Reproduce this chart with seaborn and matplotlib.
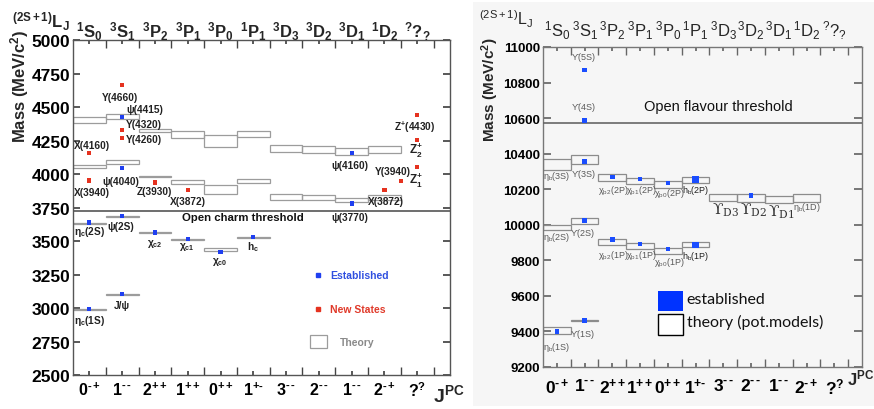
import numpy as np
import pandas as pd
import matplotlib
matplotlib.use("Agg")
import matplotlib.pyplot as plt
from matplotlib.patches import Rectangle
import seaborn as sns

# ---------------- categories ----------------
jpc_labels = ["0^{‐+}", "1^{‐\\,‐}", "2^{++}", "1^{++}", "0^{++}", "1^{+‐}",
              "3^{‐\\,‐}", "2^{‐\\,‐}", "1^{‐\\,‐}", "2^{‐+}", "?^{?}"]
term_labels = ["{}^{1}S_{0}", "{}^{3}S_{1}", "{}^{3}P_{2}", "{}^{3}P_{1}", "{}^{3}P_{0}",
               "{}^{1}P_{1}", "{}^{3}D_{3}", "{}^{3}D_{2}", "{}^{3}D_{1}", "{}^{1}D_{2}",
               "{}^{?}?_{?}"]

# ---------------- charmonium (left) ----------------
cc_th_col = [0, 0, 0, 0, 1, 1, 1, 1, 2, 2, 2, 3, 3, 3, 4, 4, 4, 5, 5, 5, 6, 6, 7, 7, 8, 8, 9, 9]
cc_th_lo = [4385, 4047, 3629, 2988, 4409, 4074, 3679, 3099, 4315, 3982, 3560, 4271, 3930, 3510,
            4204, 3856, 3426, 4280, 3935, 3523, 4166, 3811, 4161, 3804, 4146, 3794, 4159, 3806]
cc_th_hi = [4429, 4067, 3635, 2994, 4452, 4104, 3685, 3105, 4340, 3988, 3566, 4320, 3960, 3516,
            4295, 3923, 3451, 4320, 3962, 3529, 4221, 3856, 4211, 3843, 4198, 3826, 4211, 3843]

cc_est_name = ["eta_c(1S)", "J/psi", "eta_c(2S)", "psi(2S)", "chi_c2", "chi_c1", "chi_c0", "h_c",
               "psi(3770)", "psi(4040)", "psi(4160)", "psi(4415)"]
cc_est_col = [0, 1, 0, 1, 2, 3, 4, 5, 8, 1, 8, 1]
cc_est_mass = [2991, 3105, 3640, 3690, 3565, 3518, 3421, 3530, 3781, 4047, 4159, 4427]

cc_new_name = ["X(4160)", "X(3940)", "Y(4660)", "Y(4320)", "Y(4260)", "Z(3930)", "X(3872)",
               "X(3872)b", "Y(3940)", "Z1+", "Z2+", "Z+(4430)"]
cc_new_col = [0, 0, 1, 1, 1, 2, 3, 9, 9.5, 10, 10, 10]
cc_new_mass = [4161, 3953, 4668, 4332, 4271, 3938, 3880, 3880, 3950, 4055, 4253, 4444]

cc_threshold = 3729

# ---------------- bottomonium (right) ----------------
bb_th_col = [0, 0, 0, 1, 1, 1, 2, 2, 3, 3, 4, 4, 5, 5, 6, 7, 8, 9]
bb_th_lo = [10307, 9968, 9384, 10340, 10004, 9457, 10245, 9888, 10229, 9866, 10205, 9838,
            10233, 9873, 10134, 10130, 10124, 10130]
bb_th_hi = [10372, 10000, 9423, 10394, 10037, 9463, 10284, 9920, 10264, 9898, 10245, 9870,
            10269, 9903, 10171, 10171, 10162, 10171]

bb_est_name = ["eta_b(1S)", "Y(1S)", "Y(2S)", "Y(3S)", "Y(4S)", "Y(5S)", "chi_b2(2P)", "chi_b2(1P)",
               "chi_b1(2P)", "chi_b1(1P)", "chi_b0(2P)", "chi_b0(1P)", "h_b(2P)", "h_b(1P)", "Y_D2"]
bb_est_col = [0, 1, 1, 1, 1, 1, 2, 2, 3, 3, 4, 4, 5, 5, 7]
bb_est_mass = [9400, 9460, 10024, 10357, 10585, 10870, 10269, 9916, 10257, 9892, 10236, 9864,
               10255, 9887, 10163]

bb_threshold = 10570

# ---------------- layout (annotation positions) ----------------
cc_labels = [
    ("Y(4660)", 1.43, 4578, "center"), ("ψ(4415)", 1.62, 4489, "left"),
    ("Y(4320)", 1.62, 4377, "left"), ("Y(4260)", 1.62, 4265, "left"),
    ("X(4160)", 0.03, 4221, "left"), ("ψ(4040)", 0.91, 3953, "left"),
    ("X(3940)", 0.03, 3871, "left"), ("Z(3930)", 1.95, 3878, "left"),
    ("X(3872)", 2.96, 3798, "left"), ("ψ(4160)", 8.45, 4072, "center"),
    ("ψ(3770)", 8.45, 3684, "center"), ("X(3872)", 8.99, 3798, "left"),
    ("Y(3940)", 10.3, 4022, "right"), ("Z$^{+}$(4430)", 10.43, 4355, "center"),
    ("η$_{c}$(2S)", 0.03, 3573, "left"), ("ψ(2S)", 1.04, 3610, "left"),
    ("χ$_{c2}$", 2.5, 3483, "center"), ("χ$_{c1}$", 3.48, 3461, "center"),
    ("χ$_{c0}$", 4.48, 3349, "center"), ("h$_{c}$", 5.49, 3461, "center"),
    ("η$_{c}$(1S)", 0.03, 2910, "left"), ("J/ψ", 1.49, 3021, "center"),
]
cc_big_labels = [("Z$^{+}_{1}$", 10.25, 3967), ("Z$^{+}_{2}$", 10.25, 4191)]

bb_labels = [
    ("ϒ(5S)", 1.48, 10949, "center"), ("ϒ(4S)", 1.48, 10668, "center"),
    ("η$_{b}$(3S)", 0.0, 10276, "left"), ("ϒ(3S)", 1.05, 10286, "left"),
    ("χ$_{b2}$(2P)", 1.98, 10197, "left"), ("χ$_{b1}$(2P)", 2.99, 10197, "left"),
    ("χ$_{b0}$(2P)", 4.0, 10179, "left"), ("h$_{b}$(2P)", 5.01, 10201, "left"),
    ("η$_{b}$(1D)", 9.01, 10100, "left"),
    ("η$_{b}$(2S)", 0.0, 9935, "left"), ("ϒ(2S)", 1.01, 9954, "left"),
    ("χ$_{b2}$(1P)", 1.98, 9830, "left"), ("χ$_{b1}$(1P)", 2.99, 9830, "left"),
    ("χ$_{b0}$(1P)", 4.0, 9792, "left"), ("h$_{b}$(1P)", 5.01, 9826, "left"),
    ("ϒ(1S)", 1.01, 9386, "left"), ("η$_{b}$(1S)", 0.0, 9318, "left"),
]
bb_big_labels = [("ϒ$_{D3}$", 6.09, 10085), ("ϒ$_{D2}$", 7.1, 10085), ("ϒ$_{D1}$", 8.11, 10078)]

# ---------------- style ----------------
sns.set_theme(style="ticks")
plt.rcParams["font.family"] = ["Liberation Sans", "DejaVu Sans"]
plt.rcParams["mathtext.fontset"] = "custom"
plt.rcParams["mathtext.rm"] = "Liberation Sans"
plt.rcParams["mathtext.it"] = "Liberation Sans:italic"
plt.rcParams["mathtext.bf"] = "Liberation Sans:bold"
plt.rcParams["mathtext.default"] = "regular"

BLUE_L = "#1f3ff0"
RED_L = "#e5321f"
BLUE_R = "#1a4dff"
BG_R = "#f6f6f6"

W, H = 874, 410
fig = plt.figure(figsize=(W / 100, H / 100), dpi=100)
fig.patch.set_facecolor("white")
fig.add_artist(Rectangle((473 / W, 3 / H), 401 / W, 404 / H, transform=fig.transFigure,
                         facecolor=BG_R, edgecolor="none", zorder=-10))

axL = fig.add_axes([73 / W, 34 / H, 377 / W, 334.6 / H])
axR = fig.add_axes([543 / W, 42 / H, 319 / W, 320 / H])
axR.set_facecolor(BG_R)

ncol = len(jpc_labels)

# ---------- left panel ----------
lo = np.array(cc_th_lo); hi = np.array(cc_th_hi)
axL.bar(np.array(cc_th_col) + 0.5, hi - lo, bottom=lo, width=1.0, fill=False,
        edgecolor="#9c9c9c", linewidth=0.9, zorder=2)
cc_pts = pd.DataFrame({
    "x": np.r_[np.array(cc_est_col, float), np.array(cc_new_col, float)] + 0.5,
    "mass": np.r_[cc_est_mass, cc_new_mass],
    "kind": ["Established"] * len(cc_est_mass) + ["New States"] * len(cc_new_mass),
})
sns.scatterplot(data=cc_pts, x="x", y="mass", hue="kind",
                palette={"Established": BLUE_L, "New States": RED_L},
                marker="s", s=9, linewidth=0, legend=False, ax=axL, zorder=4)
axL.axhline(cc_threshold, color="#555555", lw=1.2, zorder=3)
axL.text(5.18, 3684, "Open charm threshold", ha="center", va="center",
         fontsize=8.2, fontweight="bold", color="#111111")
for t, x, y, ha in cc_labels:
    axL.text(x, y, t, ha=ha, va="center", fontsize=7.3, fontweight="bold", color="#222222")
for t, x, y in cc_big_labels:
    axL.text(x, y, t, ha="left", va="center", fontsize=8.5, fontweight="bold", color="#222222")

# left legend
axL.plot([0.65], [0.299], "s", color=BLUE_L, ms=2.8, transform=axL.transAxes)
axL.text(0.682, 0.299, "Established", transform=axL.transAxes, ha="left", va="center",
         fontsize=7.5, fontweight="bold", color="#3050e0")
axL.plot([0.65], [0.197], "s", color=RED_L, ms=2.8, transform=axL.transAxes)
axL.text(0.682, 0.197, "New States", transform=axL.transAxes, ha="left", va="center",
         fontsize=7.5, fontweight="bold", color="#e03a2a")
axL.add_patch(Rectangle((0.629, 0.081), 0.045, 0.039, transform=axL.transAxes,
                        fill=False, edgecolor="#9c9c9c", lw=0.9))
axL.text(0.708, 0.100, "Theory", transform=axL.transAxes, ha="left", va="center",
         fontsize=7.5, fontweight="bold", color="#8a8a8a")

axL.set_xlim(0, 11.5)
axL.set_ylim(2500, 5000)
axL.set_yticks(np.arange(2500, 5001, 250))
axL.set_xticks(np.arange(ncol) + 0.5)
axL.set_xticklabels([f"${s}$" for s in jpc_labels])
axL.set_xticks(np.arange(1, 12), minor=True)
axL.tick_params(axis="x", which="major", direction="in", length=3, top=True, bottom=True,
                labelsize=11.5, pad=4, colors="#444444", labelcolor="black")
axL.tick_params(axis="x", which="minor", direction="in", length=6, top=True, bottom=True,
                colors="#444444")
axL.tick_params(axis="y", which="major", direction="in", length=5, left=True, right=True,
                labelsize=12.5, pad=2, colors="#444444", labelcolor="black")
for lab in axL.get_xticklabels() + axL.get_yticklabels():
    lab.set_fontweight("bold")
for sp in axL.spines.values():
    sp.set_visible(True); sp.set_color("#555555"); sp.set_linewidth(1.0)
axL.set_xlabel(""); axL.set_ylabel("")
for i, t in enumerate(term_labels):
    axL.text(i + 0.5, 1.010, f"${t}$", transform=axL.get_xaxis_transform(),
             ha="center", va="baseline", fontsize=12, fontweight="bold")

# ---------- right panel ----------
lo = np.array(bb_th_lo); hi = np.array(bb_th_hi)
axR.bar(np.array(bb_th_col) + 0.5, hi - lo, bottom=lo, width=1.0, fill=False,
        edgecolor="#8c8c8c", linewidth=0.9, zorder=2)
bb_pts = pd.DataFrame({
    "x": np.array(bb_est_col, float) + 0.5,
    "mass": bb_est_mass,
    "group": ["big" if n.startswith("h_b") else "normal" for n in bb_est_name],
})
sns.scatterplot(data=bb_pts, x="x", y="mass", size="group", sizes={"normal": 11, "big": 20},
                color=BLUE_R, marker="s", linewidth=0, legend=False, ax=axR, zorder=4)
axR.axhline(bb_threshold, color="#666666", lw=1.2, zorder=3)
axR.text(6.31, 10668, "Open flavour threshold", ha="center", va="center",
         fontsize=10.5, color="#111111")
for t, x, y, ha in bb_labels:
    col = "#222222" if t.startswith("h") else "#5a5a5a"
    axR.text(x, y, t, ha=ha, va="center", fontsize=6.5, color=col,
             family=["Liberation Sans", "DejaVu Sans"])
for t, x, y in bb_big_labels:
    axR.text(x, y, t, ha="left", va="center", fontsize=11, color="#333333",
             family=["DejaVu Serif"])

# right legend
axR.add_patch(Rectangle((0.3605, 0.175), 0.0784, 0.0625, transform=axR.transAxes,
                        facecolor="#0033ff", edgecolor="none"))
axR.add_patch(Rectangle((0.3605, 0.100), 0.0784, 0.0656, transform=axR.transAxes,
                        facecolor="white", edgecolor="black", lw=1.0))
axR.text(0.451, 0.214, "established", transform=axR.transAxes, ha="left", va="center",
         fontsize=11.5, family=["Lato", "DejaVu Sans"], color="#111111")
axR.text(0.451, 0.142, "theory (pot.models)", transform=axR.transAxes, ha="left", va="center",
         fontsize=11.5, family=["Lato", "DejaVu Sans"], color="#111111")

axR.set_xlim(0, 11.5)
axR.set_ylim(9200, 11000)
axR.set_yticks(np.arange(9200, 11001, 200))
axR.set_xticks(np.arange(ncol) + 0.5)
axR.set_xticklabels([f"${s}$" for s in jpc_labels])
axR.set_xticks(np.arange(1, 12), minor=True)
axR.tick_params(axis="x", which="major", direction="in", length=3, top=True, bottom=True,
                labelsize=12.5, pad=7, colors="#666666", labelcolor="black")
axR.tick_params(axis="x", which="minor", direction="in", length=6, top=True, bottom=True,
                colors="#666666")
axR.tick_params(axis="y", which="major", direction="in", length=6, left=True, right=True,
                labelsize=9.5, pad=2, colors="#666666", labelcolor="black")
for lab in axR.get_xticklabels() + axR.get_yticklabels():
    lab.set_fontweight("bold")
for sp in axR.spines.values():
    sp.set_visible(True); sp.set_color("#777777"); sp.set_linewidth(1.0)
axR.set_xlabel(""); axR.set_ylabel("")
for i, t in enumerate(term_labels):
    axR.text(i + 0.5, 1.034, f"${t}$", transform=axR.get_xaxis_transform(),
             ha="center", va="baseline", fontsize=12)

# ---------- figure-level texts ----------
fig.text(20 / W, 1 - 86 / H, "Mass (MeV/c$^{2}$)", rotation=90, ha="center", va="center",
         fontsize=12, fontweight="bold")
fig.text(490 / W, 1 - 90 / H, "Mass (MeV/c$^{2}$)", rotation=90, ha="center", va="center",
         fontsize=11, fontweight="bold")
fig.text(70 / W, 1 - 28 / H, "${}^{(2S+1)}L_{J}$", ha="right", va="baseline",
         fontsize=12, fontweight="bold")
fig.text(533 / W, 1 - 25 / H, "${}^{(2S+1)}L_{J}$", ha="right", va="baseline", fontsize=11.5)
fig.text(433 / W, 1 - 402 / H, "J$^{PC}$", ha="left", va="baseline", fontsize=14,
         fontweight="bold")
fig.text(847 / W, 1 - 385 / H, "J$^{PC}$", ha="left", va="baseline", fontsize=12,
         fontweight="bold")

fig.savefig("out.png", dpi=100)
